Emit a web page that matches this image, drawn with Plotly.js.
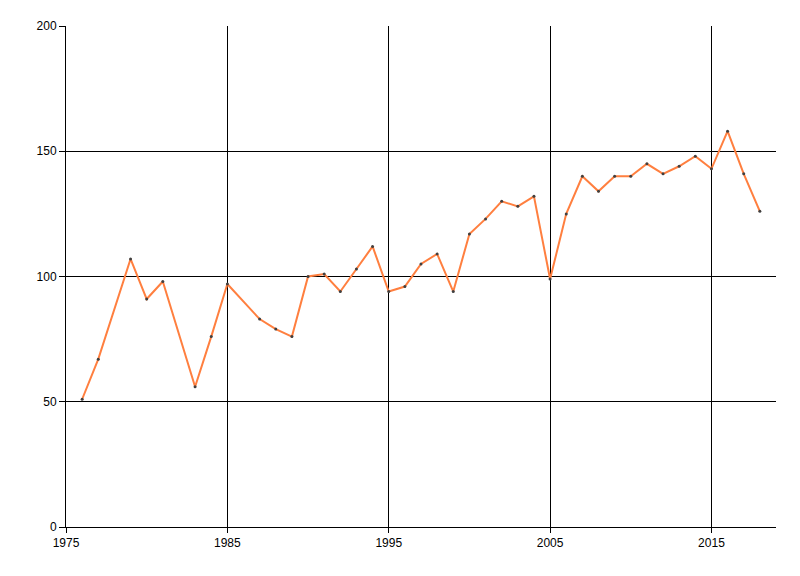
<!DOCTYPE html>
<html>
<head>
<meta charset="utf-8">
<script src="https://cdn.plot.ly/plotly-3.0.1.min.js"></script>
<style>html,body{margin:0;padding:0;background:#fff;}#chart{width:800px;height:576px;}</style>
</head>
<body>
<div id="chart"></div>
<script>
const years = [1976,1977,1979,1980,1981,1983,1984,1985,1987,1988,1989,1990,1991,1992,1993,1994,1995,1996,1997,1998,1999,2000,2001,2002,2003,2004,2005,2006,2007,2008,2009,2010,2011,2012,2013,2014,2015,2016,2017,2018];
const values = [51,67,107,91,98,56,76,97,83,79,76,100,101,94,103,112,94,96,105,109,94,117,123,130,128,132,99,125,140,134,140,140,145,141,144,148,143,158,141,126];
const xTicks = [1975,1985,1995,2005,2015];
const yTicks = [0,50,100,150,200];

const font = {family: '"Liberation Sans Narrow", "Arial Narrow", "Liberation Sans", Arial, sans-serif', size: 12, color: '#000'};

Plotly.newPlot('chart', [{
  x: years, y: values, type: 'scatter', mode: 'lines+markers',
  line: {color: '#FF7F3F', width: 2},
  marker: {color: '#404040', size: 3},
  hoverinfo: 'x+y'
}], {
  width: 800, height: 576,
  margin: {l: 66, r: 24, t: 26, b: 49, pad: 0},
  paper_bgcolor: '#fff', plot_bgcolor: '#fff',
  showlegend: false,
  font: font,
  xaxis: {
    range: [1975, 2019], tickvals: xTicks, ticktext: xTicks.map(String),
    showgrid: true, gridcolor: '#000', gridwidth: 1,
    showline: true, linecolor: '#000', linewidth: 1,
    ticks: 'outside', ticklen: 5, tickcolor: '#000', zeroline: false,
    tickfont: font
  },
  yaxis: {
    range: [0, 200], tickvals: yTicks, ticktext: yTicks.map(String),
    showgrid: true, gridcolor: '#000', gridwidth: 1,
    showline: true, linecolor: '#000', linewidth: 1,
    ticks: 'outside', ticklen: 6, tickcolor: '#000', zeroline: false,
    tickfont: font
  }
}, {displayModeBar: false, staticPlot: true});
</script>
</body>
</html>
